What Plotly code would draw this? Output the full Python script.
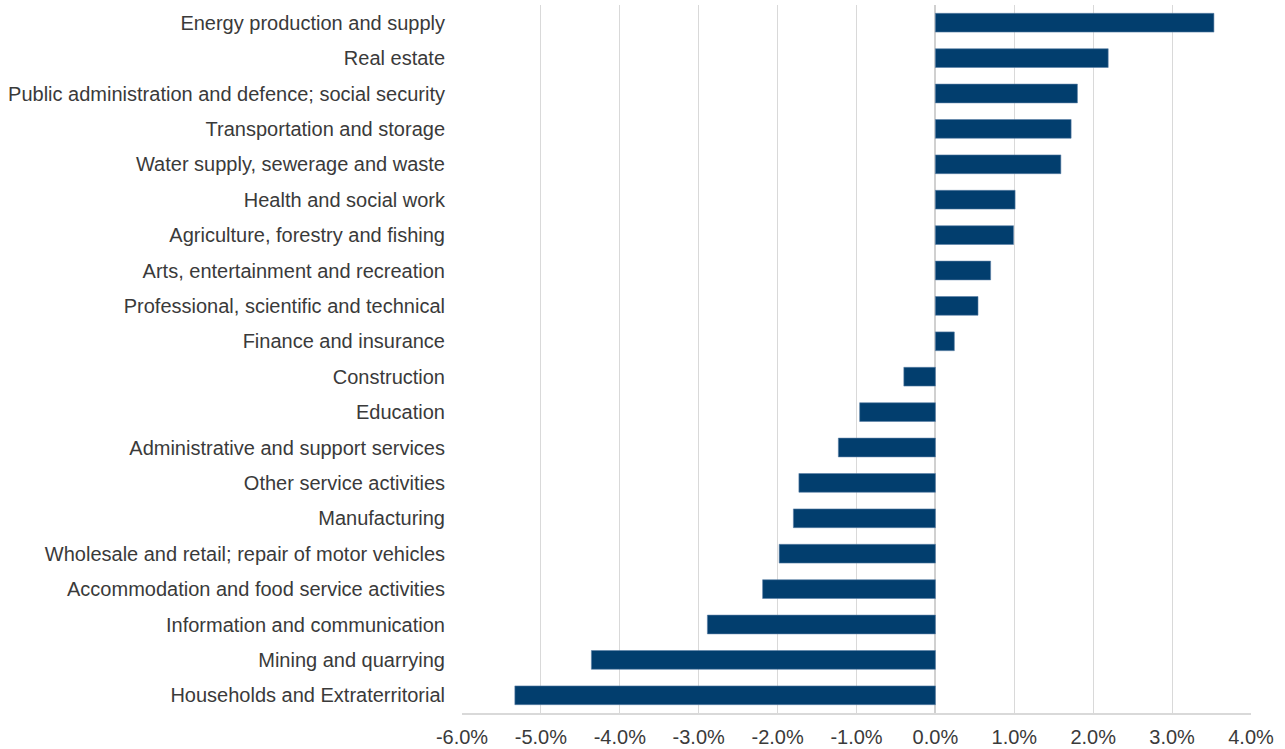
import plotly.graph_objects as go

categories = [
    "Energy production and supply",
    "Real estate",
    "Public administration and defence; social security",
    "Transportation and storage",
    "Water supply, sewerage and waste",
    "Health and social work",
    "Agriculture, forestry and fishing",
    "Arts, entertainment and recreation",
    "Professional, scientific and technical",
    "Finance and insurance",
    "Construction",
    "Education",
    "Administrative and support services",
    "Other service activities",
    "Manufacturing",
    "Wholesale and retail; repair of motor vehicles",
    "Accommodation and food service activities",
    "Information and communication",
    "Mining and quarrying",
    "Households and Extraterritorial",
]
values = [
    0.0353, 0.0219, 0.0180, 0.0172, 0.0159, 0.0101, 0.0099, 0.0070, 0.0054, 0.0024,
    -0.0040, -0.0096, -0.0123, -0.0173, -0.0180, -0.0198, -0.0219, -0.0289, -0.0436, -0.0533,
]
x_ticks = [-0.06, -0.05, -0.04, -0.03, -0.02, -0.01, 0.0, 0.01, 0.02, 0.03, 0.04]
x_tick_labels = ["-6.0%", "-5.0%", "-4.0%", "-3.0%", "-2.0%", "-1.0%",
                 "0.0%", "1.0%", "2.0%", "3.0%", "4.0%"]

fig = go.Figure(
    go.Bar(
        x=values,
        y=categories,
        orientation="h",
        marker=dict(color="#023e6e", line=dict(color="#5a7fa6", width=0.6)),
        width=0.53,
    )
)

fig.update_layout(
    width=1285,
    height=749,
    margin=dict(l=462, r=34, t=5, b=36, autoexpand=False),
    paper_bgcolor="white",
    plot_bgcolor="white",
    font=dict(family="Liberation Sans, Arial, sans-serif", size=20, color="#3a3a3a"),
    showlegend=False,
)
fig.update_xaxes(
    range=[-0.06, 0.04],
    tickvals=x_ticks,
    ticktext=x_tick_labels,
    showgrid=True,
    gridcolor="#d9d9d9",
    gridwidth=1,
    zeroline=True,
    zerolinecolor="#d0d0d0",
    zerolinewidth=2,
    showline=True,
    linecolor="#d9d9d9",
    linewidth=2,
    ticks="",
    ticklabelstandoff=5,
    automargin=False,
)
fig.update_yaxes(
    autorange="reversed",
    showgrid=False,
    zeroline=False,
    showline=False,
    ticks="",
    ticklabelstandoff=16,
    automargin=False,
)

fig.write_html(
    "out.html",
    config={"displayModeBar": False},
    post_script="document.body.style.margin='0';document.body.style.overflow='hidden';",
)
